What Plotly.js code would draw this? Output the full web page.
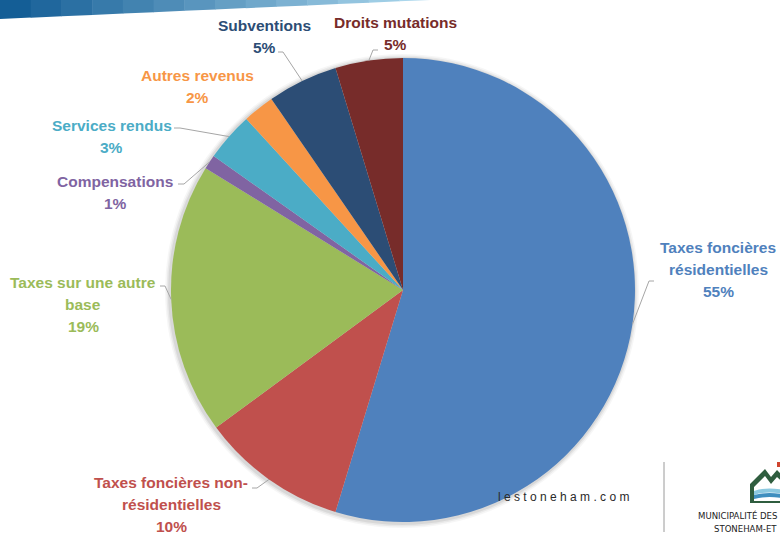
<!DOCTYPE html>
<html><head><meta charset="utf-8">
<script src="https://cdn.plot.ly/plotly-3.0.1.min.js"></script>
<style>html,body{margin:0;padding:0;background:#fff}#chart{width:780px;height:535px}</style>
</head><body><div id="chart"></div>
<script>
// ---- data ----
const categories = ["Taxes foncières résidentielles","Taxes foncières non-résidentielles","Taxes sur une autre base","Compensations","Services rendus","Autres revenus","Subventions","Droits mutations"];
const values = [54.7, 10.2, 18.9, 1.0, 3.4, 2.2, 4.9, 4.7];
const labelLines = [["Taxes foncières","résidentielles"],["Taxes foncières non-","résidentielles"],["Taxes sur une autre","base"],["Compensations"],["Services rendus"],["Autres revenus"],["Subventions"],["Droits mutations"]];
const sliceColors = ["#4F81BD","#C0504D","#9BBB59","#8064A2","#4BACC6","#F79646","#2C4D75","#772C2A"];
const textColors  = ["#4F81BD","#C0504D","#9BBB59","#8064A2","#4BACC6","#F79646","#2C4D75","#772C2A"];

// ---- layout geometry (pixels) ----
const W = 780, H = 535, CX = 403, CY = 290, R = 232;
const LINE = 22.3;
// label centre x, first-line y, leader: [text-side x, y, elbow x] or null
const labelPos = [
  {x:718, y:247, lead:[654,281,649]},
  {x:171, y:482, lead:[252,488,257]},
  {x:83,  y:282, lead:[160,286,165]},
  {x:115, y:181, lead:[178,184,184]},
  {x:112, y:125, lead:[174,128,180]},
  {x:197, y:75,  lead:null},
  {x:264, y:25,  lead:[278,52,283]},
  {x:395, y:22,  lead:[378,50,373]}
];
const px = x => x / W;
const py = y => 1 - y / H;

const total = values.reduce((a,b)=>a+b,0);
const annotations = [];
const shapes = [];

// top-left decorative band (gradient strips)
const bandC1 = [20,94,150], bandC2 = [170,214,236];
const nS = 14, bandEnd = 430, bandH = 19;
for (let i = 0; i < nS; i++) {
  const xa = bandEnd * i / nS, xb = bandEnd * (i + 1) / nS + 0.5;
  const ya = bandH * (1 - xa / bandEnd), yb = Math.max(0, bandH * (1 - xb / bandEnd));
  const t = i / (nS - 1);
  const c = bandC1.map((v,k)=>Math.round(v + (bandC2[k]-v)*t));
  shapes.push({type:'path', xref:'paper', yref:'paper', layer:'below',
    path:`M${px(xa)},${py(0)} L${px(xb)},${py(0)} L${px(xb)},${py(yb)} L${px(xa)},${py(ya)} Z`,
    fillcolor:`rgb(${c.join(',')})`, line:{width:0}});
}

// soft shadow around pie
[[5,0.035],[3.5,0.05],[2,0.07]].forEach(([d,a])=>{
  shapes.push({type:'circle', xref:'paper', yref:'paper', layer:'below',
    x0:px(CX-R-d-1), x1:px(CX+R+d-1), y0:py(CY+R+d+1), y1:py(CY-R-d+1),
    fillcolor:`rgba(0,0,0,${a})`, line:{width:0}});
});

// labels and leader lines
let cum = 0;
values.forEach((v,i)=>{
  const mid = (cum + v/2) / total * 360 * Math.PI / 180;
  cum += v;
  const pct = Math.round(v / total * 100) + "%";
  const lines = labelLines[i].concat([pct]);
  const p = labelPos[i];
  lines.forEach((t,k)=>{
    annotations.push({xref:'paper', yref:'paper', x:px(p.x), y:py(p.y + k*LINE),
      xanchor:'center', yanchor:'middle', showarrow:false, text:'<b>'+t+'</b>',
      font:{family:'Liberation Sans, Arial, sans-serif', size:15.5, color:textColors[i]}});
  });
  if (p.lead) {
    const ex = CX + R * Math.sin(mid), ey = CY - R * Math.cos(mid);
    shapes.push({type:'path', xref:'paper', yref:'paper', layer:'above',
      path:`M${px(p.lead[0])},${py(p.lead[1])} L${px(p.lead[2])},${py(p.lead[1])} L${px(ex)},${py(ey)}`,
      line:{color:'#A6A6A6', width:1}});
  }
});

// footer decorations
annotations.push({xref:'paper', yref:'paper', x:px(496), y:py(497), xanchor:'left', yanchor:'middle',
  showarrow:false, text:'l e s t o n e h a m . c o m',
  font:{family:'Liberation Sans, Arial, sans-serif', size:12, color:'#2a2a2a'}});
shapes.push({type:'line', xref:'paper', yref:'paper', x0:px(664), x1:px(664), y0:py(462), y1:py(532),
  line:{color:'#9a9a9a', width:1}});
shapes.push({type:'path', xref:'paper', yref:'paper', layer:'above',
  path:`M${px(750)},${py(503)} L${px(750)},${py(484)} L${px(765)},${py(469)} L${px(771)},${py(477)} L${px(777)},${py(470)} L${px(788)},${py(481)} L${px(788)},${py(503)} Z`,
  fillcolor:'#2f5d3f', line:{width:0}});
shapes.push({type:'path', xref:'paper', yref:'paper', layer:'above',
  path:`M${px(754)},${py(501)} L${px(754)},${py(487)} L${px(765)},${py(476)} L${px(771)},${py(484)} L${px(777)},${py(477)} L${px(788)},${py(487)} L${px(788)},${py(501)} Z`,
  fillcolor:'#ffffff', line:{width:0}});
shapes.push({type:'path', xref:'paper', yref:'paper', layer:'above',
  path:`M${px(754)},${py(491)} Q${px(768)},${py(486)} ${px(788)},${py(491)} L${px(788)},${py(495)} Q${px(768)},${py(490)} ${px(754)},${py(495)} Z`,
  fillcolor:'#8cc9e0', line:{width:0}});
shapes.push({type:'path', xref:'paper', yref:'paper', layer:'above',
  path:`M${px(754)},${py(495)} Q${px(768)},${py(491)} ${px(788)},${py(495)} L${px(788)},${py(499)} Q${px(768)},${py(495)} ${px(754)},${py(499)} Z`,
  fillcolor:'#3f8fbf', line:{width:0}});
shapes.push({type:'rect', xref:'paper', yref:'paper', layer:'above',
  x0:px(777), x1:px(781), y0:py(467), y1:py(462), fillcolor:'#d0452f', line:{width:0}});
annotations.push({xref:'paper', yref:'paper', x:px(779), y:py(515), xanchor:'right', yanchor:'middle',
  showarrow:false, text:'MUNICIPALITÉ DES',
  font:{family:'Liberation Sans Narrow, DejaVu Sans Condensed, Arial, sans-serif', size:9.5, color:'#222'}});
annotations.push({xref:'paper', yref:'paper', x:px(779), y:py(528), xanchor:'right', yanchor:'middle',
  showarrow:false, text:'STONEHAM-ET',
  font:{family:'Liberation Sans Narrow, DejaVu Sans Condensed, Arial, sans-serif', size:9.5, color:'#222'}});

const trace = {
  type:'pie', values:values, labels:categories, sort:false, direction:'clockwise', rotation:0,
  textinfo:'none', hoverinfo:'label+percent', showlegend:false,
  marker:{colors:sliceColors, line:{width:0}},
  domain:{x:[px(CX-R), px(CX+R)], y:[py(CY+R), py(CY-R)]}
};

Plotly.newPlot('chart', [trace], {
  width:W, height:H, margin:{l:0,r:0,t:0,b:0},
  paper_bgcolor:'#ffffff', plot_bgcolor:'#ffffff',
  showlegend:false, shapes:shapes, annotations:annotations
}, {staticPlot:true, displayModeBar:false});
</script></body></html>
